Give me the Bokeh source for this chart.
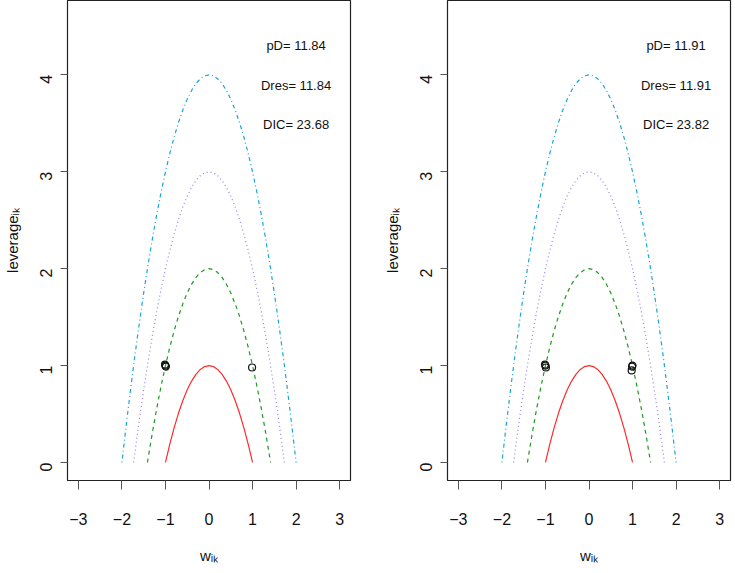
import math
from bokeh.plotting import figure
from bokeh.layouts import row
from bokeh.models import Label, Range1d, FixedTicker
from bokeh.embed import file_html
from bokeh.resources import INLINE

# ---- reference curves (leverage vs w_ik) ----
w_c1 = [-1.0, -0.9, -0.8, -0.7, -0.6, -0.5, -0.4, -0.3, -0.2, -0.1, 0.0,
        0.1, 0.2, 0.3, 0.4, 0.5, 0.6, 0.7, 0.8, 0.9, 1.0]
lev_c1 = [0.0, 0.19, 0.36, 0.51, 0.64, 0.75, 0.84, 0.91, 0.96, 0.99, 1.0,
          0.99, 0.96, 0.91, 0.84, 0.75, 0.64, 0.51, 0.36, 0.19, 0.0]

w_c2 = [-1.414, -1.4, -1.3, -1.2, -1.1, -1.0, -0.9, -0.8, -0.7, -0.6, -0.5, -0.4, -0.3, -0.2, -0.1, 0.0,
        0.1, 0.2, 0.3, 0.4, 0.5, 0.6, 0.7, 0.8, 0.9, 1.0, 1.1, 1.2, 1.3, 1.4, 1.414]
lev_c2 = [0.0, 0.04, 0.31, 0.56, 0.79, 1.0, 1.19, 1.36, 1.51, 1.64, 1.75, 1.84, 1.91, 1.96, 1.99, 2.0,
          1.99, 1.96, 1.91, 1.84, 1.75, 1.64, 1.51, 1.36, 1.19, 1.0, 0.79, 0.56, 0.31, 0.04, 0.0]

w_c3 = [-1.732, -1.7, -1.6, -1.5, -1.4, -1.3, -1.2, -1.1, -1.0, -0.9, -0.8, -0.7, -0.6, -0.5, -0.4, -0.3, -0.2, -0.1, 0.0,
        0.1, 0.2, 0.3, 0.4, 0.5, 0.6, 0.7, 0.8, 0.9, 1.0, 1.1, 1.2, 1.3, 1.4, 1.5, 1.6, 1.7, 1.732]
lev_c3 = [0.0, 0.11, 0.44, 0.75, 1.04, 1.31, 1.56, 1.79, 2.0, 2.19, 2.36, 2.51, 2.64, 2.75, 2.84, 2.91, 2.96, 2.99, 3.0,
          2.99, 2.96, 2.91, 2.84, 2.75, 2.64, 2.51, 2.36, 2.19, 2.0, 1.79, 1.56, 1.31, 1.04, 0.75, 0.44, 0.11, 0.0]

w_c4 = [-2.0, -1.9, -1.8, -1.7, -1.6, -1.5, -1.4, -1.3, -1.2, -1.1, -1.0, -0.9, -0.8, -0.7, -0.6, -0.5, -0.4, -0.3, -0.2, -0.1, 0.0,
        0.1, 0.2, 0.3, 0.4, 0.5, 0.6, 0.7, 0.8, 0.9, 1.0, 1.1, 1.2, 1.3, 1.4, 1.5, 1.6, 1.7, 1.8, 1.9, 2.0]
lev_c4 = [0.0, 0.39, 0.76, 1.11, 1.44, 1.75, 2.04, 2.31, 2.56, 2.79, 3.0, 3.19, 3.36, 3.51, 3.64, 3.75, 3.84, 3.91, 3.96, 3.99, 4.0,
          3.99, 3.96, 3.91, 3.84, 3.75, 3.64, 3.51, 3.36, 3.19, 3.0, 2.79, 2.56, 2.31, 2.04, 1.75, 1.44, 1.11, 0.76, 0.39, 0.0]

# ---- observed points ----
left_w = [-1.0, -0.99, -1.01, 0.99]
left_lev = [1.0, 0.99, 1.01, 0.98]
right_w = [-1.0, -0.99, -1.01, 1.0, 0.99, 0.98]
right_lev = [1.0, 0.98, 1.01, 1.0, 0.99, 0.95]

# ---- fit statistics ----
left_stats = ["pD= 11.84", "Dres= 11.84", "DIC= 23.68"]
right_stats = ["pD= 11.91", "Dres= 11.91", "DIC= 23.82"]

x_ticks = [-3, -2, -1, 0, 1, 2, 3]
y_ticks = [0, 1, 2, 3, 4]
x_title = "w\u1d62\u2096"
y_title = "leverage\u1d62\u2096"

FONT = "Liberation Sans"


def panel(pw, plev, stats, bl, br):
    p = figure(frame_width=283, frame_height=480,
               x_range=Range1d(-3.25, 3.25), y_range=Range1d(-0.186, 4.768),
               output_backend="svg", toolbar_location=None,
               min_border_left=bl, min_border_right=br,
               min_border_top=0, min_border_bottom=77,
               background_fill_color="white", border_fill_color="white")
    p.grid.visible = False
    p.outline_line_color = "#222222"
    p.outline_line_width = 1.2

    for ax, ticks in ((p.xaxis[0], x_ticks), (p.yaxis[0], y_ticks)):
        ax.ticker = FixedTicker(ticks=ticks)
        ax.minor_tick_line_color = None
        ax.major_tick_in = 0
        ax.major_tick_line_color = "#555555"
        ax.axis_line_color = None
        ax.major_label_text_font = FONT
        ax.major_label_text_font_size = "16px"
        ax.major_label_text_color = "#111111"
        ax.axis_label_text_font = FONT
        ax.axis_label_text_font_style = "normal"
        ax.axis_label_text_font_size = "15px"
        ax.axis_label_text_color = "#111111"
    p.xaxis.major_tick_out = 9
    p.xaxis.major_label_standoff = 23
    p.xaxis.axis_label = x_title
    p.xaxis.axis_label_standoff = 19
    p.yaxis.major_tick_out = 7
    p.yaxis.major_label_standoff = 14
    p.yaxis.major_label_orientation = math.pi / 2
    p.yaxis.axis_label = y_title
    p.yaxis.axis_label_standoff = 11

    p.line(w_c1, lev_c1, line_color="#FF2A2A", line_width=1.2)
    p.line(w_c2, lev_c2, line_color="#1E9A1E", line_width=1.2, line_dash="4 4")
    p.line(w_c3, lev_c3, line_color="#9B7FE6", line_width=1.2, line_dash="1 3")
    p.line(w_c4, lev_c4, line_color="#1AA3DC", line_width=1.2, line_dash="1 3 4 3")

    p.scatter(pw, plev, marker="circle", size=7, fill_color=None,
              line_color="#111111", line_width=1.2)

    for txt, yy in zip(stats, [4.30, 3.89, 3.49]):
        p.add_layout(Label(x=2.0, y=yy, text=txt, text_align="center",
                           text_baseline="middle", text_font=FONT,
                           text_font_size="13px", text_color="#111111"))
    return p


p1 = panel(left_w, left_lev, left_stats, 60, 5)
p2 = panel(right_w, right_lev, right_stats, 92, 4)
layout = row(p1, p2)

open("out.html", "w").write(file_html(layout, INLINE))
